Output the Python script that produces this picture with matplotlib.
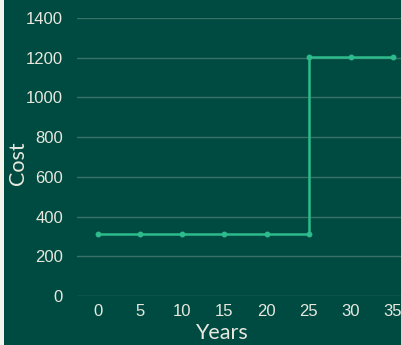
import matplotlib
matplotlib.use("Agg")
import matplotlib.pyplot as plt
from matplotlib.patches import Rectangle

# step cost over time (year 25 appears twice for the jump)
years = [0, 5, 10, 15, 20, 25, 25, 30, 35]
cost = [312, 312, 312, 312, 312, 312, 1205, 1205, 1205]
x_ticks = [0, 5, 10, 15, 20, 25, 30, 35]
y_ticks = [0, 200, 400, 600, 800, 1000, 1200, 1400]

bg = "#004b41"
line_col = "#2dbb8c"
grid_col = "#3b7067"
text_col = "#e8e8df"

W, H = 401, 345
fig = plt.figure(figsize=(W / 100, H / 100), dpi=100, facecolor=bg)
fig.patches.append(Rectangle((0, 0), 4 / W, 1, transform=fig.transFigure,
                             facecolor="#f4f4ec", edgecolor="none"))

ax = fig.add_axes([77 / W, (H - 296) / H, 337 / W, 278 / H])
ax.set_facecolor(bg)
ax.plot(years, cost, color=line_col, lw=1.8, marker="o", ms=3.2,
        solid_joinstyle="miter")

ax.set_xlim(-2.5, 37.5)
ax.set_ylim(0, 1400)
ax.set_xticks(x_ticks)
ax.set_yticks(y_ticks)
ax.grid(axis="y", color=grid_col, lw=1)
ax.set_axisbelow(True)
for s in ax.spines.values():
    s.set_visible(False)
ax.tick_params(length=0, colors=text_col, labelsize=12)
ax.tick_params(axis="y", pad=10)
ax.tick_params(axis="x", pad=6)
for lab in ax.get_xticklabels() + ax.get_yticklabels():
    lab.set_family("Liberation Sans")

fig.text(221 / W, 1 - 333 / H, "Years", color=text_col, fontsize=15.5,
         ha="center", va="center", family="Lato")
fig.text(18 / W, 1 - 163 / H, "Cost", color=text_col, fontsize=15.5,
         ha="center", va="center", rotation=90, family="Lato")

fig.savefig("out.png", dpi=100, facecolor=bg)
